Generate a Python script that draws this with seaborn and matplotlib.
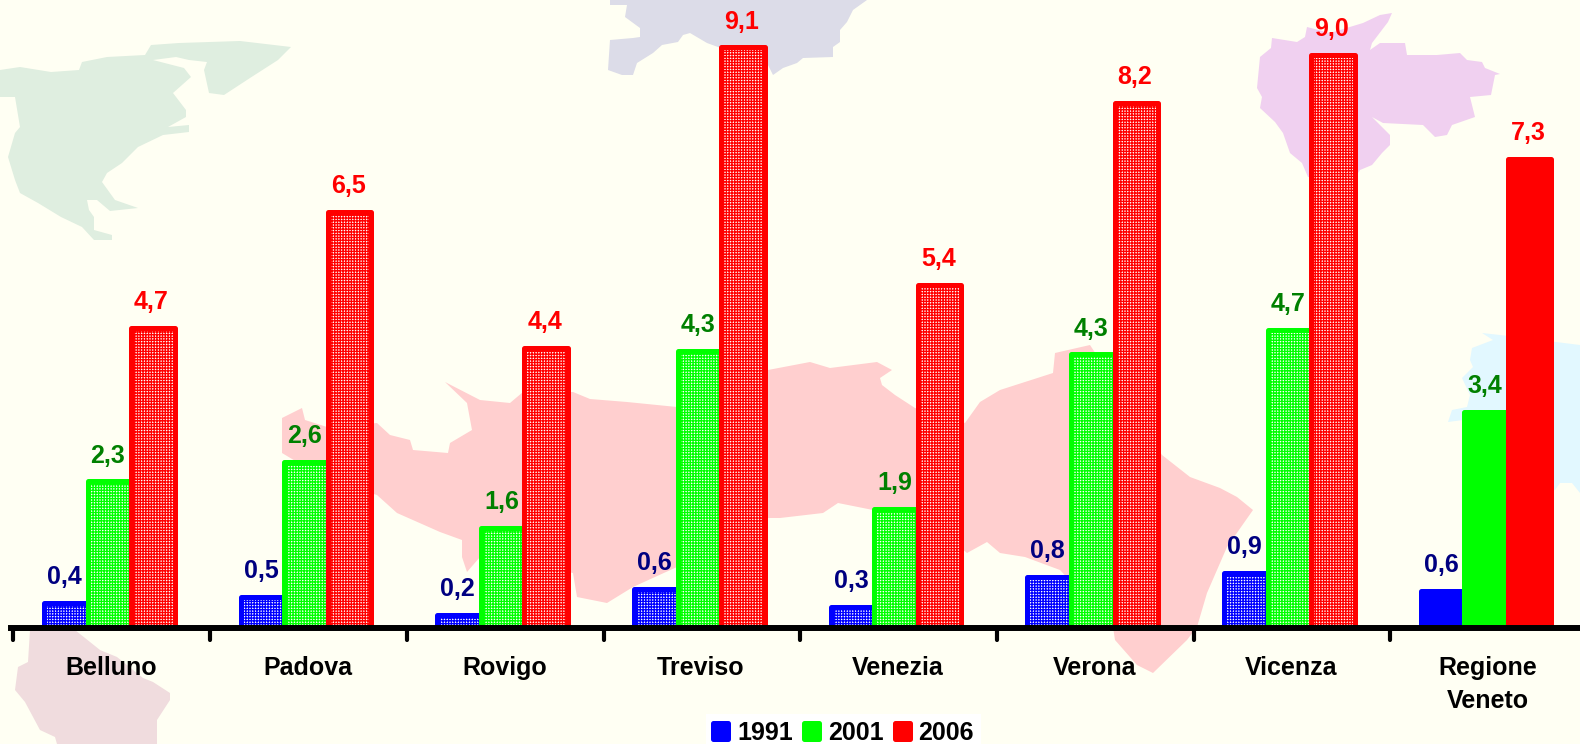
import pandas as pd
import seaborn as sns
import matplotlib.pyplot as plt
from matplotlib.markers import MarkerStyle, TICKDOWN
from matplotlib.patches import Polygon
from matplotlib.transforms import Affine2D

province = ["Belluno", "Padova", "Rovigo", "Treviso", "Venezia", "Verona", "Vicenza", "Regione\nVeneto"]
v1991 = [0.39, 0.49, 0.20, 0.61, 0.33, 0.80, 0.86, 0.58]
v2001 = [2.30, 2.60, 1.57, 4.34, 1.87, 4.29, 4.67, 3.39]
v2006 = [4.70, 6.52, 4.39, 9.10, 5.38, 8.23, 8.98, 7.35]
anni = ["1991", "2001", "2006"]
colori = ["#0000FF", "#00FF00", "#FF0000"]
colori_testo = ["#000080", "#008000", "#FF0000"]

# background world map, rough outlines in image pixels
mappa = {
    "#DFEEE0": [(0,70),(20,67),(51,72),(79,70),(82,62),(107,57),(145,55),(151,45),(179,43),(240,41),(291,47),(278,60),(250,78),(224,95),(209,93),(204,70),(207,62),(189,60),(176,57),(153,60),(184,68),(191,77),(173,93),(186,110),(186,117),(168,127),(189,125),(189,132),(163,135),(138,147),(122,163),(107,173),(102,182),(115,200),(138,208),(110,211),(97,200),(87,200),(89,210),(94,217),(94,230),(112,235),(112,240),(94,240),(82,227),(61,217),(38,203),(20,193),(15,180),(8,157),(15,133),(20,127),(15,97),(0,97)],
    "#DCDCE8": [(610,0),(867,0),(853,10),(847,22),(840,30),(840,42),(833,47),(833,57),(803,58),(797,63),(783,68),(773,75),(767,63),(718,47),(707,43),(690,33),(683,35),(678,42),(662,45),(653,53),(637,63),(633,75),(622,75),(608,70),(610,40),(633,38),(640,37),(640,28),(625,17),(627,5),(610,5)],
    "#F0D0F0": [(1380,15),(1392,13),(1388,22),(1372,43),(1370,50),(1380,43),(1405,43),(1407,55),(1437,55),(1460,53),(1467,60),(1482,62),(1485,68),(1500,74),(1495,75),(1491,95),(1470,97),(1475,117),(1452,125),(1447,135),(1435,137),(1423,125),(1383,123),(1372,117),(1390,135),(1390,145),(1382,153),(1372,165),(1360,170),(1358,173),(1308,177),(1302,163),(1290,153),(1283,133),(1275,122),(1260,108),(1262,97),(1257,88),(1260,57),(1271,48),(1272,38),(1297,42),(1305,37),(1307,27),(1330,33),(1363,23)],
    "#E2F8FF": [(1482,333),(1500,335),(1580,345),(1580,493),(1572,483),(1560,483),(1555,490),(1500,500),(1463,420),(1448,422),(1452,410),(1467,407),(1470,395),(1462,378),(1473,367),(1470,360),(1472,348),(1493,340)],
    "#F0DCDE": [(30,630),(75,630),(100,650),(117,657),(143,678),(153,682),(170,693),(170,700),(157,720),(157,744),(57,744),(55,737),(40,730),(25,702),(15,690),(18,667),(28,662)],
    "#FFCFCF": [(282,418),(302,408),(305,420),(327,427),(377,423),(390,435),(410,440),(413,450),(448,453),(450,443),(472,430),(467,403),(445,382),(480,400),(510,403),(523,392),(573,392),(590,399),(627,402),(677,407),(768,370),(810,362),(830,368),(877,362),(892,370),(880,378),(882,385),(895,395),(915,408),(965,423),(980,402),(1000,390),(1053,373),(1055,353),(1090,345),(1162,455),(1190,477),(1220,488),(1237,497),(1253,510),(1227,547),(1207,593),(1197,627),(1187,640),(1153,673),(1137,665),(1115,640),(1113,627),(1060,570),(1025,557),(1000,553),(987,542),(967,553),(915,510),(873,510),(838,503),(823,513),(780,518),(768,518),(677,567),(633,587),(607,603),(577,597),(573,573),(480,557),(467,572),(462,557),(462,540),(440,532),(397,513),(377,495),(327,480),(282,453)],
}

df = pd.DataFrame({
    "provincia": province * 3,
    "anno": [a for a in anni for _ in province],
    "valore": v1991 + v2001 + v2006,
})

W, H = 1580, 744
BASE = 628
plt.rcParams["font.family"] = ["Liberation Sans", "DejaVu Sans"]
plt.rcParams["font.weight"] = "bold"
plt.rcParams["hatch.linewidth"] = 0.95

fig = plt.figure(figsize=(W / 100, H / 100), dpi=100, facecolor="#FFFFF3")

pixel = Affine2D().scale(1 / W, -1 / H).translate(0, 1) + fig.transFigure
for colore, punti in mappa.items():
    fig.add_artist(Polygon(punti, closed=True, facecolor=colore, edgecolor="none", transform=pixel, zorder=-1))

# category width 197 px, so the last one runs off the right of the image
ax = fig.add_axes([11 / W, (H - BASE) / H, 197 * 8 / W, BASE / H])
ax.patch.set_alpha(0)

sns.barplot(data=df, x="provincia", y="valore", hue="anno", palette=colori, hue_order=anni,
            width=0.664, saturation=1, ax=ax)

for i, cont in enumerate(ax.containers):
    for j, bar in enumerate(cont.patches):
        bar.set_joinstyle("round")
        bar.set_edgecolor(colori[i])
        bar.set_linewidth(3.6)
        if j < len(province) - 1:
            bar.set_facecolor("white")
            bar.set_hatch("++++++")
        h = bar.get_height()
        ax.annotate(f"{h:.1f}".replace(".", ","), (bar.get_x() + bar.get_width() / 2, h),
                    xytext=(-1, 13.5), textcoords="offset points", ha="center", va="baseline",
                    color=colori_testo[i], fontsize=18, fontweight="bold", zorder=5)

ax.set_xlim(-0.5, 7.5)
ax.set_ylim(0, BASE / 63.8)
ax.set_xlabel("")
ax.set_ylabel("")
ax.set_yticks([])
sns.despine(ax=ax, left=True, top=True, right=True)
ax.spines["bottom"].set_linewidth(4.3)
ax.spines["bottom"].set_zorder(6)

ax.set_xticks([x + 0.008 for x in range(len(province))], province)
ax.tick_params(axis="x", which="major", length=0, pad=20.5, labelsize=18)
for lab in ax.get_xticklabels():
    lab.set_fontweight("bold")
    lab.set_linespacing(1.47)
ax.set_xticks([x - 0.5 + 0.0127 for x in range(9)], minor=True)
ax.tick_params(axis="x", which="minor", length=8.6, width=3)
for tick in ax.xaxis.get_minor_ticks():
    tick.tick1line.set_marker(MarkerStyle(TICKDOWN, capstyle="round"))

handles, labels = ax.get_legend_handles_labels()
leg = ax.legend(handles, labels, loc="center", bbox_to_anchor=(843.5 / W, (H - 733) / H),
                bbox_transform=fig.transFigure, ncol=3, frameon=True, fancybox=False,
                facecolor="white", edgecolor="none", framealpha=1,
                prop={"size": 18, "weight": "bold"}, handlelength=0.6, handleheight=0.6,
                handletextpad=0.35, columnspacing=0.45, borderpad=0.3)
for p in leg.get_patches():
    p.set_linewidth(3.6)
    p.set_joinstyle("round")
    p.set_edgecolor(p.get_facecolor())

fig.savefig("out.png", dpi=100, facecolor=fig.get_facecolor())
